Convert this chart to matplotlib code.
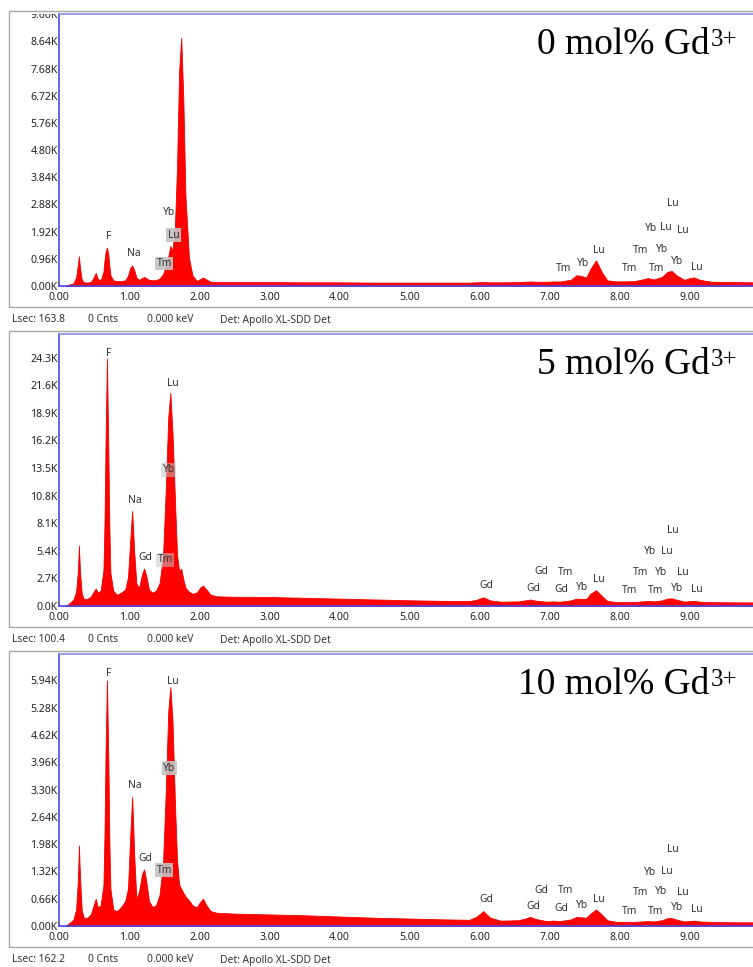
import matplotlib
matplotlib.use('Agg')
import matplotlib.pyplot as plt
from matplotlib.patches import Rectangle
from matplotlib.transforms import Bbox, TransformedBbox

plt.rcParams['font.family'] = ['Noto Sans', 'DejaVu Sans']

# shared energy grid (keV)
energy = [0.08, 0.11, 0.15, 0.20, 0.24, 0.265, 0.28, 0.295, 0.32, 0.35,
          0.40, 0.45, 0.49, 0.52, 0.55, 0.59, 0.63, 0.645, 0.66, 0.68,
          0.70, 0.715, 0.73, 0.77, 0.82, 0.88, 0.94, 0.98, 1.01, 1.04,
          1.07, 1.10, 1.14, 1.18, 1.21, 1.24, 1.28, 1.33, 1.38, 1.43,
          1.48, 1.52, 1.555, 1.585, 1.615, 1.65, 1.68, 1.71, 1.74, 1.77,
          1.80, 1.85, 1.90, 1.96, 2.01, 2.05, 2.10, 2.16, 2.25, 2.5,
          3.0, 3.5, 4.0, 4.5, 5.0, 5.5, 5.85, 5.95, 6.05, 6.15,
          6.3, 6.55, 6.65, 6.72, 6.8, 6.95, 7.05, 7.15, 7.3, 7.38,
          7.44, 7.52, 7.58, 7.66, 7.74, 7.82, 7.95, 8.2, 8.32, 8.40,
          8.48, 8.6, 8.68, 8.74, 8.82, 8.92, 9.0, 9.06, 9.14, 9.3,
          9.6, 9.95]

# counts in thousands
counts_0 = [0.0, 0.03, 0.06, 0.09, 0.3, 0.75, 1.05, 0.65, 0.22, 0.13,
            0.12, 0.14, 0.3, 0.46, 0.25, 0.2, 0.5, 0.9, 1.2, 1.36,
            1.1, 0.7, 0.38, 0.2, 0.17, 0.17, 0.2, 0.36, 0.62, 0.73,
            0.55, 0.3, 0.22, 0.28, 0.32, 0.28, 0.22, 0.2, 0.21, 0.26,
            0.42, 0.7, 1.05, 1.41, 1.25, 2.1, 4.2, 7.6, 8.77, 6.6,
            3.2, 1.0, 0.38, 0.18, 0.24, 0.3, 0.23, 0.15, 0.14, 0.14,
            0.14, 0.13, 0.13, 0.12, 0.12, 0.12, 0.12, 0.13, 0.14, 0.13,
            0.13, 0.14, 0.15, 0.16, 0.15, 0.15, 0.16, 0.16, 0.22, 0.38,
            0.36, 0.3, 0.6, 0.91, 0.5, 0.2, 0.16, 0.17, 0.23, 0.28,
            0.23, 0.32, 0.5, 0.53, 0.36, 0.22, 0.28, 0.3, 0.22, 0.15,
            0.14, 0.13]
counts_5 = [0.0, 0.1, 0.3, 0.6, 1.4, 3.4, 5.9, 3.4, 1.2, 0.7,
            0.7, 0.9, 1.4, 1.7, 1.3, 1.5, 3.5, 8.0, 16.0, 24.2,
            15.0, 7.5, 3.2, 1.5, 1.1, 1.3, 1.6, 2.8, 6.2, 9.3,
            5.2, 2.2, 1.8, 3.1, 3.66, 3.0, 1.6, 1.3, 1.5, 2.2,
            4.8, 11.5, 18.5, 20.85, 17.0, 10.5, 5.0, 3.4, 3.66, 2.6,
            1.8, 1.4, 1.2, 1.3, 1.8, 2.0, 1.6, 1.1, 0.95, 0.9,
            0.88, 0.8, 0.72, 0.64, 0.56, 0.5, 0.48, 0.6, 0.85, 0.55,
            0.42, 0.45, 0.55, 0.63, 0.52, 0.42, 0.45, 0.42, 0.55, 0.72,
            0.7, 0.68, 1.2, 1.54, 1.0, 0.5, 0.38, 0.38, 0.45, 0.5,
            0.45, 0.55, 0.73, 0.75, 0.6, 0.42, 0.48, 0.5, 0.42, 0.38,
            0.36, 0.35]
counts_10 = [0.0, 0.03, 0.08, 0.15, 0.4, 1.1, 1.95, 1.2, 0.38, 0.2,
             0.2, 0.28, 0.5, 0.66, 0.45, 0.5, 1.0, 2.2, 4.2, 5.94,
             4.0, 2.0, 0.9, 0.4, 0.36, 0.45, 0.6, 0.9, 2.1, 3.12,
             1.7, 0.65, 0.85, 1.25, 1.37, 1.1, 0.6, 0.46, 0.5, 0.75,
             1.5, 3.3, 5.2, 5.78, 5.0, 3.0, 1.6, 1.0, 0.9, 0.8,
             0.72, 0.62, 0.5, 0.45, 0.58, 0.66, 0.5, 0.36, 0.32, 0.3,
             0.28, 0.26, 0.23, 0.2, 0.18, 0.16, 0.15, 0.22, 0.36, 0.2,
             0.13, 0.14, 0.18, 0.22, 0.17, 0.12, 0.13, 0.12, 0.16, 0.22,
             0.21, 0.2, 0.3, 0.4, 0.28, 0.14, 0.1, 0.1, 0.11, 0.12,
             0.11, 0.14, 0.19, 0.19, 0.15, 0.11, 0.12, 0.13, 0.11, 0.1,
             0.09, 0.09]

# peak labels: (element, keV, counts in K, boxed)
labels_0 = [("F", 0.70, 1.76, 0), ("Na", 1.06, 1.16, 0), ("Yb", 1.57, 2.61, 0),
            ("Lu", 1.63, 1.80, 1), ("Tm", 1.50, 0.80, 1),
            ("Tm", 7.20, 0.62, 0), ("Yb", 7.47, 0.79, 0), ("Lu", 7.70, 1.27, 0),
            ("Tm", 8.14, 0.62, 0), ("Tm", 8.29, 1.27, 0), ("Tm", 8.52, 0.62, 0),
            ("Yb", 8.44, 2.03, 0), ("Lu", 8.66, 2.07, 0), ("Lu", 8.76, 2.92, 0),
            ("Lu", 8.90, 1.95, 0), ("Yb", 8.60, 1.29, 0), ("Yb", 8.81, 0.85, 0),
            ("Lu", 9.10, 0.65, 0)]
labels_5 = [("F", 0.70, 24.7, 0), ("Lu", 1.62, 21.8, 0), ("Yb", 1.56, 13.3, 1),
            ("Na", 1.08, 10.3, 0), ("Gd", 1.23, 4.7, 0), ("Tm", 1.51, 4.5, 1),
            ("Gd", 6.10, 1.96, 0), ("Gd", 6.76, 1.7, 0), ("Gd", 6.88, 3.4, 0),
            ("Tm", 7.22, 3.3, 0), ("Gd", 7.17, 1.6, 0), ("Yb", 7.46, 1.8, 0),
            ("Lu", 7.70, 2.6, 0), ("Tm", 8.14, 1.47, 0), ("Tm", 8.29, 3.3, 0),
            ("Tm", 8.51, 1.47, 0), ("Yb", 8.43, 5.3, 0), ("Lu", 8.67, 5.3, 0),
            ("Lu", 8.76, 7.4, 0), ("Yb", 8.59, 3.3, 0), ("Lu", 8.90, 3.3, 0),
            ("Yb", 8.81, 1.76, 0), ("Lu", 9.10, 1.6, 0)]
labels_10 = [("F", 0.70, 6.1, 0), ("Lu", 1.62, 5.92, 0), ("Yb", 1.57, 3.82, 1),
             ("Na", 1.08, 3.40, 0), ("Gd", 1.23, 1.63, 0), ("Tm", 1.50, 1.35, 1),
             ("Gd", 6.10, 0.65, 0), ("Gd", 6.76, 0.48, 0), ("Gd", 6.88, 0.86, 0),
             ("Tm", 7.22, 0.85, 0), ("Gd", 7.17, 0.42, 0), ("Yb", 7.46, 0.5, 0),
             ("Lu", 7.70, 0.65, 0), ("Tm", 8.14, 0.36, 0), ("Tm", 8.29, 0.82, 0),
             ("Tm", 8.51, 0.36, 0), ("Yb", 8.43, 1.29, 0), ("Lu", 8.67, 1.31, 0),
             ("Lu", 8.76, 1.85, 0), ("Yb", 8.59, 0.84, 0), ("Lu", 8.90, 0.82, 0),
             ("Yb", 8.81, 0.44, 0), ("Lu", 9.10, 0.40, 0)]

titles = ["0 mol% Gd", "5 mol% Gd", "10 mol% Gd"]
lsec = ["163.8", "100.4", "162.2"]
ytick_step = [0.96, 2.7, 0.66]
ytick_fmt = ["{:.2f}K", "{:.1f}K", "{:.2f}K"]
ymax = [9.61, 26.6, 6.58]
xticks = [0, 1, 2, 3, 4, 5, 6, 7, 8, 9]

W, H = 753, 967
fig = plt.figure(figsize=(W / 100, H / 100), dpi=100)
renderer = fig.canvas.get_renderer()

def fx(px):
    return px / W

def fy(py):
    return 1 - py / H

series = [counts_0, counts_5, counts_10]
labsets = [labels_0, labels_5, labels_10]
box_alpha = [0.9, 0.55, 0.9]

for i in range(3):
    off = 320 * i
    # outer gray frame
    fig.patches.append(Rectangle((fx(8.5), fy(306.5 + off)), fx(760), (296 / H),
                                 transform=fig.transFigure, fill=False,
                                 ec='#a9a9a9', lw=1.0))
    bottom_px = 286 + off
    top_px = 14 + off
    ax = fig.add_axes([fx(59.3), fy(bottom_px), fx(760 - 59.3), (bottom_px - top_px) / H])
    ax.fill_between(energy, series[i], 0, color='#ff0000', lw=0.6, edgecolor='#f00000')
    ax.set_xlim(0, 10)
    ax.set_ylim(0, ymax[i])

    ax.set_xticks(xticks)
    ax.set_xticklabels(["{:.2f}".format(t) for t in xticks])
    yt = []
    k = 0
    while k * ytick_step[i] <= ymax[i]:
        yt.append(round(k * ytick_step[i], 2))
        k += 1
    ax.set_yticks(yt)
    ax.set_yticklabels([ytick_fmt[i].format(v) for v in yt])
    ax.tick_params(length=0, labelsize=7.6, colors='#222222')
    ax.tick_params(axis='x', pad=4)
    ax.tick_params(axis='y', pad=1)

    clip = TransformedBbox(Bbox.from_extents(0, fy(bottom_px + 20), fx(59.3), fy(top_px)),
                           fig.transFigure)
    for t in ax.yaxis.get_major_ticks():
        t.label1.set_clip_on(True)
        t.label1.set_clip_box(clip)

    for s in ['left', 'bottom']:
        ax.spines[s].set_color('#4a4ae8')
        ax.spines[s].set_linewidth(1.2)
    ax.spines['top'].set_color('#8c8ce0')
    ax.spines['top'].set_linewidth(1.2)
    ax.spines['right'].set_visible(False)

    for name, e, c, boxed in labsets[i]:
        kw = {}
        if boxed:
            kw['bbox'] = dict(boxstyle='square,pad=0.12', fc='#c4c4c4', ec='none',
                              alpha=box_alpha[i])
        ax.text(e, c, name, ha='center', va='center', fontsize=7.4,
                color='#333333', **kw)

    # title with superscript as a second text
    sup = fig.text(fx(737), fy(46 + off), "3+", ha='right', va='baseline',
                   fontsize=18, family='Liberation Serif', color='black')
    sx = sup.get_window_extent(renderer).x0
    fig.text((sx - 0.5) / W, fy(53.5 + off), titles[i], ha='right', va='baseline',
             fontsize=27, family='Liberation Serif', color='black')

    ys = fy(320 + off)
    fig.text(fx(12), ys, "Lsec: " + lsec[i], fontsize=7.4, va='center', color='#333333')
    fig.text(fx(88), ys, "0 Cnts", fontsize=7.4, va='center', color='#333333')
    fig.text(fx(147), ys, "0.000 keV", fontsize=7.4, va='center', color='#333333')
    fig.text(fx(220), ys, "Det: Apollo XL-SDD Det", fontsize=7.4, va='center', color='#333333')

fig.savefig('out.png', dpi=100)
